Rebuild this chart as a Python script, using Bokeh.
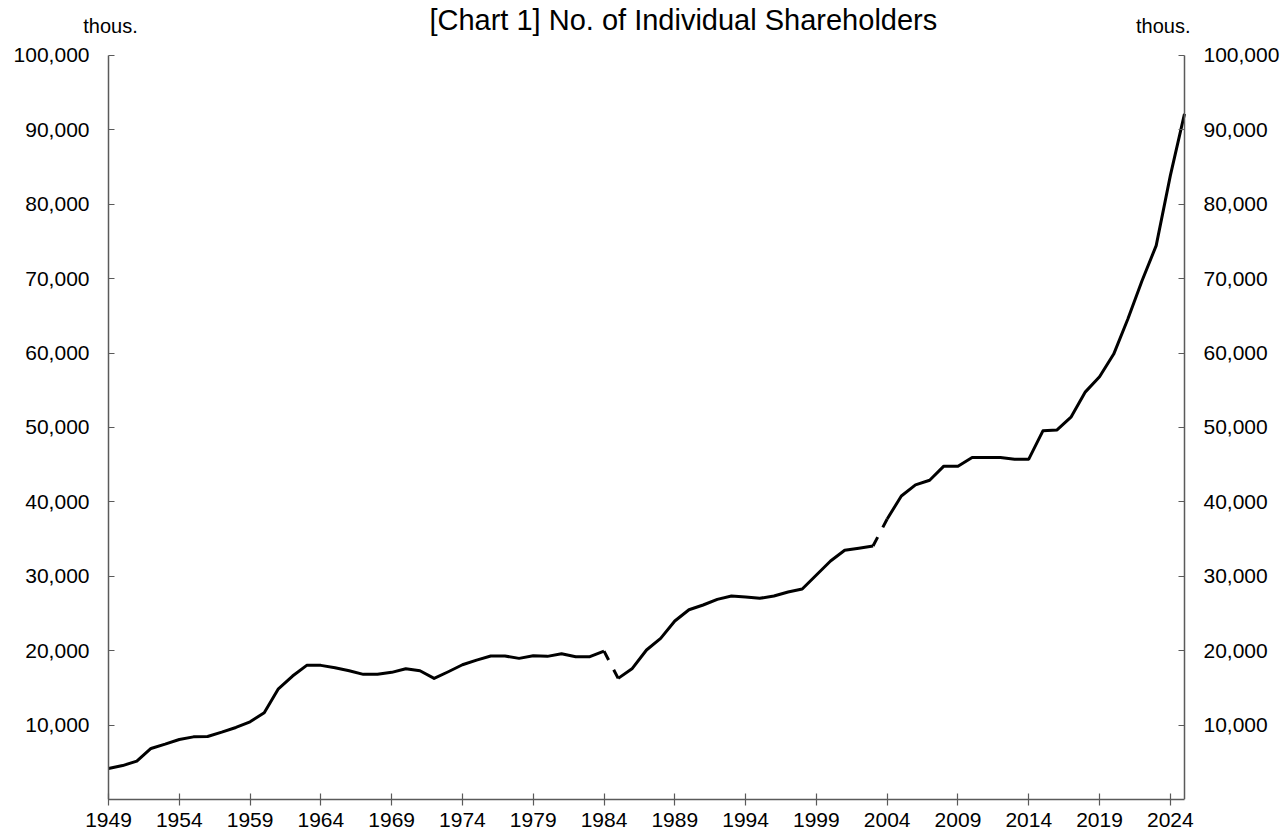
from bokeh.plotting import figure
from bokeh.models import Range1d, LinearAxis, FixedTicker, NumeralTickFormatter, Label
from bokeh.embed import file_html
from bokeh.resources import INLINE

# ---- data (thousands of individual shareholders) ----
years = list(range(1949, 2026))
shareholders = [
    4170, 4560, 5150, 6860, 7440, 8070, 8420, 8470, 9050, 9680,      # 1949-1958
    10440, 11650, 14880, 16590, 18030, 18030, 17710, 17300, 16820, 16820,  # 1959-1968
    17090, 17570, 17300, 16280, 17170, 18110, 18740, 19280, 19280, 18970,  # 1969-1978
    19320, 19240, 19590, 19190, 19190, 19950, 16280, 17620, 20090, 21660,  # 1979-1988
    23990, 25510, 26140, 26900, 27350, 27220, 27040, 27350, 27890, 28290,  # 1989-1998
    30170, 32060, 33500, 33770, 34080, 37700, 40800, 42290, 42910, 44800,  # 1999-2008
    44800, 45960, 45960, 45960, 45740, 45740, 49550, 49680, 51430, 54790,  # 2009-2018
    56810, 59870, 64580, 69730, 74440, 83860, 92150,                       # 2019-2025
]
break_years = [1985, 2004]          # series breaks (drawn as dashed connectors)
x_ticks = list(range(1949, 2025, 5))
y_ticks = list(range(10000, 100001, 10000))
title_text = "[Chart  1] No. of Individual Shareholders"
unit_text = "thous."

FONT = "Liberation Sans"
AXIS_COLOR = "#5a5a5a"
X0, X1 = years[0], years[-1]

p = figure(
    frame_width=1283, frame_height=799,
    min_border_left=0, min_border_right=0, min_border_top=0, min_border_bottom=35,
    x_range=Range1d(1941.372, 2031.993), y_range=Range1d(0, 107392),
    output_backend="svg", toolbar_location=None,
    background_fill_color="white", border_fill_color="white",
    y_axis_location=None,
)
p.styles = {"margin-bottom": "-12px"}
p.outline_line_color = None
p.xgrid.visible = False
p.ygrid.visible = False

# y axes pinned at the ends of the series range
p.add_layout(LinearAxis(fixed_location=X0), "left")
p.add_layout(LinearAxis(fixed_location=X1), "right")

for ax in p.yaxis:
    ax.ticker = FixedTicker(ticks=y_ticks)
    ax.formatter = NumeralTickFormatter(format="0,0")
    ax.bounds = (0, 100000)
    ax.major_tick_in = 6
    ax.major_tick_out = 0
    ax.major_label_standoff = 19

for ax in p.xaxis:
    ax.ticker = FixedTicker(ticks=x_ticks)
    ax.bounds = (X0, X1)
    ax.major_tick_in = 6
    ax.major_tick_out = 6
    ax.major_label_standoff = 7

for ax in p.xaxis + p.yaxis:
    ax.axis_line_color = AXIS_COLOR
    ax.axis_line_width = 1.5
    ax.major_tick_line_color = AXIS_COLOR
    ax.major_tick_line_width = 1.2
    ax.minor_tick_line_color = None
    ax.major_label_text_font = FONT
    ax.major_label_text_font_size = "21px"
    ax.major_label_text_color = "black"

# ---- series, split at breaks ----
idx = [years.index(b) for b in break_years]
bounds = [0] + idx + [len(years)]
for a, b in zip(bounds[:-1], bounds[1:]):
    p.line(years[a:b], shareholders[a:b], line_color="black", line_width=3,
           line_join="round")
for i in idx:
    p.line(years[i - 1:i + 1], shareholders[i - 1:i + 1], line_color="black",
           line_width=3, line_dash="10 11")

# ---- texts ----
p.add_layout(Label(x=1971.67, y=104704, text=title_text, text_font=FONT,
                   text_font_size="29px", text_align="left",
                   text_baseline="alphabetic", text_color="black"))
p.add_layout(Label(x=1949.14, y=103898, text=unit_text, text_font=FONT,
                   text_font_size="20px", text_align="center",
                   text_baseline="alphabetic", text_color="black"))
p.add_layout(Label(x=2023.5, y=103898, text=unit_text, text_font=FONT,
                   text_font_size="20px", text_align="center",
                   text_baseline="alphabetic", text_color="black"))

open("out.html", "w").write(file_html(p, INLINE))
